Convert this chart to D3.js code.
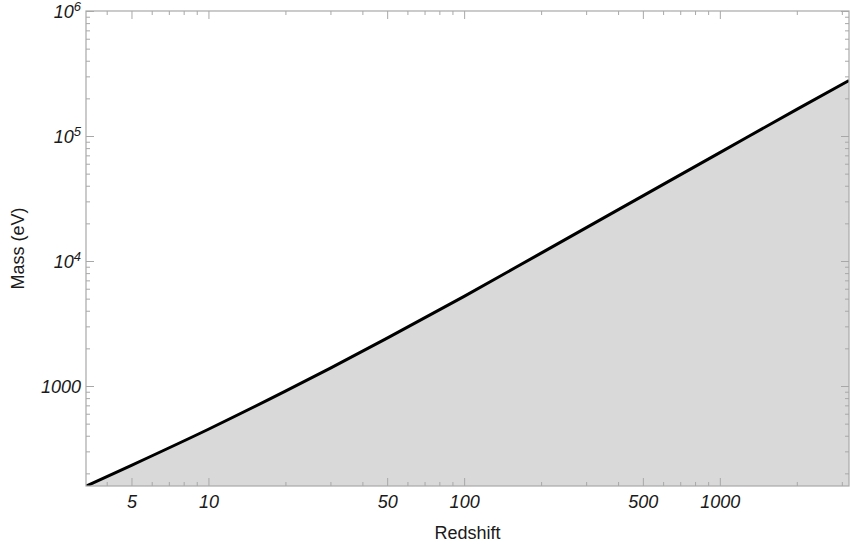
<!doctype html>
<html lang="en">
<head>
<meta charset="utf-8" />
<title>Mass vs redshift</title>
<script src="https://cdn.jsdelivr.net/npm/d3@7"></script>
<style>
  body { margin: 0; background: #fff; }
  text { font-family: "Liberation Sans", Arial, sans-serif; }
</style>
</head>
<body>
<script>
// values
var redshift = [3.32, 5, 10, 20, 30, 50, 100, 200, 500, 1000, 2000, 3200];
var massEv = [158, 232, 451, 909, 1391, 2415, 5212, 11570, 33180, 73620, 163400, 277900];

var xDomain = [3.32, 3200];
var yDomain = [158.5, 1e6];

var xMajor = [5, 10, 50, 100, 500, 1000];
var xMinor = [4, 6, 7, 8, 9, 20, 30, 40, 60, 70, 80, 90, 200, 300, 400, 600, 700, 800, 900, 2000, 3000];
var yMajor = [1000, 1e4, 1e5, 1e6];
var yLabels = ["1000", "10|4", "10|5", "10|6"];

var w = 850, h = 547;
// note: "top" is taken by window.top, so use a prefix
var pLeft = 86, pRight = 849, pTop = 11, pBottom = 486;
var frameColor = "#a8a8a8";

var svg = d3.select("body").append("svg")
  .attr("width", w)
  .attr("height", h);

var x = d3.scaleLog().domain(xDomain).range([pLeft, pRight]);
var y = d3.scaleLog().domain(yDomain).range([pBottom, pTop]);

svg.append("clipPath").attr("id", "plot")
  .append("rect")
  .attr("x", pLeft).attr("y", pTop)
  .attr("width", pRight - pLeft).attr("height", pBottom - pTop);

var pts = redshift.map(function(z, i) { return [z, massEv[i]]; });

var area = d3.area()
  .x(function(d) { return x(d[0]); })
  .y0(pBottom)
  .y1(function(d) { return y(d[1]); })
  .curve(d3.curveMonotoneX);

var line = d3.line()
  .x(function(d) { return x(d[0]); })
  .y(function(d) { return y(d[1]); })
  .curve(d3.curveMonotoneX);

var plot = svg.append("g").attr("clip-path", "url(#plot)");

plot.append("path")
  .datum(pts)
  .attr("d", area)
  .attr("fill", "#d9d9d9");

// axes: ticks pointing inward, frame drawn separately
function styleAxis(g) {
  g.select(".domain").remove();
  g.selectAll(".tick line").attr("stroke", frameColor);
}

svg.append("g").attr("transform", "translate(0," + pBottom + ")")
  .call(d3.axisBottom(x).tickValues(xMinor).tickSize(-4).tickFormat(""))
  .call(styleAxis);
svg.append("g").attr("transform", "translate(0," + pBottom + ")")
  .call(d3.axisBottom(x).tickValues(xMajor).tickSize(-8).tickPadding(9)
    .tickFormat(function(d) { return String(d); }))
  .call(styleAxis)
  .selectAll("text")
  .attr("font-size", "18px")
  .attr("font-style", "italic")
  .attr("fill", "#1a1a1a")
  .style("font-family", "'Liberation Sans', Arial, sans-serif");

svg.append("g").attr("transform", "translate(0," + pTop + ")")
  .call(d3.axisTop(x).tickValues(xMinor).tickSize(-4).tickFormat(""))
  .call(styleAxis);
svg.append("g").attr("transform", "translate(0," + pTop + ")")
  .call(d3.axisTop(x).tickValues(xMajor).tickSize(-8).tickFormat(""))
  .call(styleAxis);

var yMinor = [];
[100, 1000, 1e4, 1e5].forEach(function(base) {
  for (var k = 2; k <= 9; k++) {
    var v = base * k;
    if (v >= yDomain[0] && v <= yDomain[1]) yMinor.push(v);
  }
});

svg.append("g").attr("transform", "translate(" + pLeft + ",0)")
  .call(d3.axisLeft(y).tickValues(yMinor).tickSize(-4).tickFormat(""))
  .call(styleAxis);
var yAx = svg.append("g").attr("transform", "translate(" + pLeft + ",0)")
  .call(d3.axisLeft(y).tickValues(yMajor).tickSize(-8).tickPadding(5).tickFormat(""))
  .call(styleAxis);

svg.append("g").attr("transform", "translate(" + pRight + ",0)")
  .call(d3.axisRight(y).tickValues(yMinor).tickSize(-4).tickFormat(""))
  .call(styleAxis);
svg.append("g").attr("transform", "translate(" + pRight + ",0)")
  .call(d3.axisRight(y).tickValues(yMajor).tickSize(-8).tickFormat(""))
  .call(styleAxis);

// y tick labels with superscript exponents
yAx.selectAll(".tick").each(function(d, i) {
  var parts = yLabels[i].split("|");
  var t = d3.select(this).select("text")
    .attr("x", -5)
    .attr("dy", "0.38em")
    .attr("font-size", "18px")
    .attr("font-style", "italic")
    .attr("fill", "#1a1a1a")
    .attr("text-anchor", "end")
    .style("font-family", "'Liberation Sans', Arial, sans-serif")
    .text(parts[0]);
  if (parts[1]) {
    t.append("tspan")
      .attr("dy", "-0.55em")
      .attr("font-size", "13px")
      .text(parts[1]);
  }
});

// frame
svg.append("rect")
  .attr("x", pLeft).attr("y", pTop)
  .attr("width", pRight - pLeft).attr("height", pBottom - pTop)
  .attr("fill", "none")
  .attr("stroke", frameColor)
  .attr("stroke-width", 1.2);

plot.append("path")
  .datum(pts)
  .attr("d", line)
  .attr("fill", "none")
  .attr("stroke", "#000")
  .attr("stroke-width", 3);

// axis titles
svg.append("text")
  .attr("x", (pLeft + pRight) / 2)
  .attr("y", 539)
  .attr("text-anchor", "middle")
  .attr("font-size", "18px")
  .attr("fill", "#1a1a1a")
  .text("Redshift");

svg.append("text")
  .attr("transform", "translate(24," + ((pTop + pBottom) / 2) + ") rotate(-90)")
  .attr("text-anchor", "middle")
  .attr("font-size", "18px")
  .attr("fill", "#1a1a1a")
  .text("Mass (eV)");
</script>
</body>
</html>
